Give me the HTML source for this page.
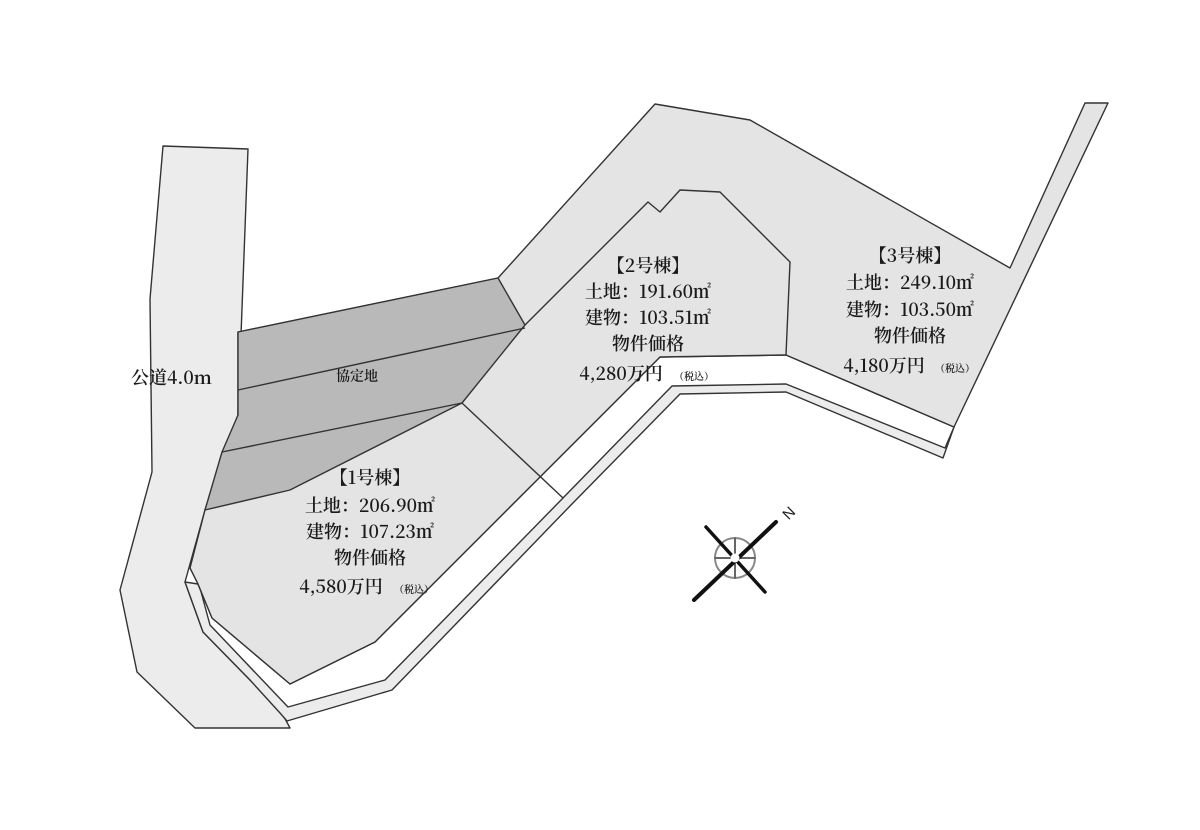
<!DOCTYPE html>
<html><head><meta charset="utf-8">
<style>
html,body{margin:0;padding:0;background:#fff;}
svg{display:block;}
text{font-family:"Noto Serif CJK SC","Liberation Serif",serif;fill:#1a1a1a;}
</style></head>
<body>
<svg width="1200" height="830" viewBox="0 0 1200 830" xmlns="http://www.w3.org/2000/svg">
<rect width="1200" height="830" fill="#fff"/>
<g stroke="#333" stroke-width="1.4" stroke-linejoin="round">
<!-- road -->
<polygon points="163,146 248,149 238,415 205,510 185,582 203,632 250,680 282,713 290,728 195,728 137,672 120,590 152,472 150,299" fill="#ececec"/>
<!-- sidewalk band -->
<polygon points="185,582 203,632 250,680 280,713 287,721 392,690 570,506 680,394 786,392 943,458 954,427 786,355 660,357 540,477 375,642 290,684 212,618 198,584" fill="#ececec"/>
<!-- white setback strip -->
<polygon points="200,588 210,625 288,707 385,680 563,498 672,386 786,384 945,448 954,427 786,355 660,357 540,477 375,642 290,684 212,618 198,584" fill="#ffffff"/>
<!-- main gray lots -->
<polygon points="498,278 655,104 750,120 1010,268 1085,103 1108,103 954,427 786,355 660,357 540,477 375,642 290,684 212,618 198,584 190,568 205,510 238,415 238,332" fill="#e4e4e4"/>
<!-- dark agreement area -->
<polygon points="238,332 498,278 525,325 462,403 290,490 205,510 222,452 238,415" fill="#b9b9b9"/>
<polyline points="238,390 525,328" fill="none"/>
<polyline points="222,452 462,403" fill="none"/>
<!-- lot 2 inner boundary -->
<polyline points="525,325 648,202 660,212 680,190 720,192 790,262 786,355" fill="none"/>
<polyline points="462,403 563,498" fill="none"/>
</g>
<!-- compass -->
<g stroke="#111" stroke-linecap="round">
<circle cx="735" cy="558" r="20" fill="none" stroke="#888" stroke-width="2"/>
<line x1="735" y1="538" x2="735" y2="578" stroke="#666" stroke-width="2"/>
<line x1="715" y1="558" x2="755" y2="558" stroke="#666" stroke-width="2"/>
<line x1="694" y1="600" x2="776" y2="522" stroke-width="4"/>
<line x1="706" y1="527" x2="765" y2="592" stroke-width="3.5"/>
<circle cx="735" cy="558" r="4" fill="#fff" stroke="#fff"/>
</g>
<text x="783" y="517" font-size="15" transform="rotate(-45 790 512)" style="font-family:'Liberation Sans',sans-serif">N</text>
<!-- labels -->
<text x="131" y="384" font-size="18" font-weight="600">公道4.0ｍ</text>
<text x="336" y="381" font-size="14" font-weight="600">協定地</text>
<g font-size="18" text-anchor="middle" font-weight="600">
<text x="370" y="484">【1号棟】</text>
<text x="370" y="512">土地：206.90㎡</text>
<text x="370" y="538">建物：107.23㎡</text>
<text x="370" y="564">物件価格</text>
<text x="341" y="593">4,580万円</text>
<text x="648" y="272">【2号棟】</text>
<text x="648" y="298">土地：191.60㎡</text>
<text x="648" y="324">建物：103.51㎡</text>
<text x="648" y="350">物件価格</text>
<text x="621" y="380">4,280万円</text>
<text x="910" y="262">【3号棟】</text>
<text x="910" y="289">土地：249.10㎡</text>
<text x="910" y="316">建物：103.50㎡</text>
<text x="910" y="342">物件価格</text>
<text x="884" y="372">4,180万円</text>
</g>
<g font-size="10" font-weight="600">
<text x="394" y="593">（税込）</text>
<text x="674" y="380">（税込）</text>
<text x="935" y="372">（税込）</text>
</g>
</svg>
</body></html>
